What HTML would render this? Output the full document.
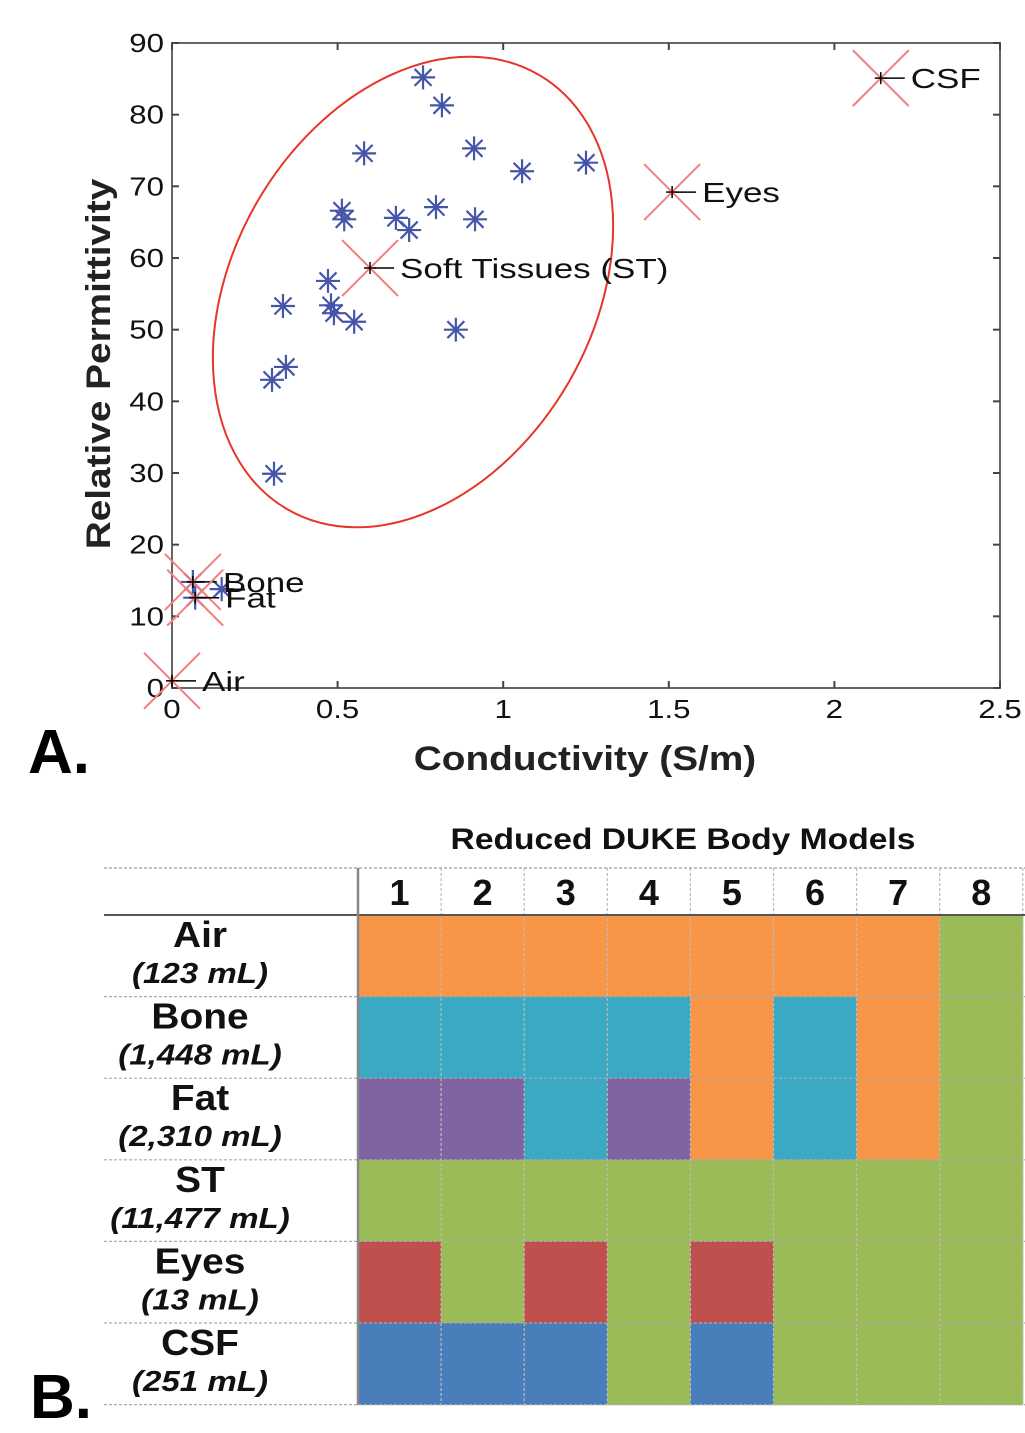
<!DOCTYPE html>
<html><head><meta charset="utf-8"><style>
body{margin:0;background:#fff;width:1025px;height:1433px;overflow:hidden;font-family:"Liberation Sans",sans-serif}
svg{position:absolute;left:0;top:0}
</style></head><body>
<svg id="chart" width="1025" height="1433" viewBox="0 0 1025 1433"></svg>
<script>
const starX=[0.758,0.815,0.912,0.58,1.057,1.25,0.513,0.52,0.676,0.716,0.797,0.915,0.471,0.335,0.48,0.489,0.55,0.857,0.344,0.302,0.308,0.063,0.07,0.15];
const starY=[85.2,81.3,75.3,74.6,72.1,73.3,66.6,65.4,65.6,63.9,67.1,65.4,56.8,53.3,53.4,52.3,51.1,50,44.8,43,29.9,14.8,12.6,13.8];
const labelNames=["CSF","Eyes","Soft Tissues (ST)","Bone","Fat","Air"];
const labelX=[2.14,1.51,0.598,0.063,0.07,0];
const labelY=[85.1,69.2,58.6,14.8,12.6,1];
const xTicks=[0,0.5,1,1.5,2,2.5];
const yTicks=[0,10,20,30,40,50,60,70,80,90];
const tissues=["Air","Bone","Fat","ST","Eyes","CSF"];
const volumes=["(123 mL)","(1,448 mL)","(2,310 mL)","(11,477 mL)","(13 mL)","(251 mL)"];
const models=["1","2","3","4","5","6","7","8"];
const grid=[
["O","O","O","O","O","O","O","G"],
["C","C","C","C","O","C","O","G"],
["P","P","C","P","O","C","O","G"],
["G","G","G","G","G","G","G","G"],
["R","G","R","G","R","G","G","G"],
["B","B","B","G","B","G","G","G"]];
const colors={O:"#F79646",C:"#3BA9C3",P:"#8064A2",G:"#9BBB59",R:"#C0504D",B:"#4A7EBB"};

const NS="http://www.w3.org/2000/svg";
const svg=document.getElementById('chart');
const widen=[];
function mk(tag,attrs,parent){const e=document.createElementNS(NS,tag);for(const k in attrs)e.setAttribute(k,attrs[k]);(parent||svg).appendChild(e);return e;}
const X0=172,X1=1000,Y0=688,Y1=43;
const sx=v=>X0+(v-0)/(2.5)*(X1-X0);
const sy=v=>Y0-(v/90)*(Y0-Y1);

let e=mk('rect',{x:X0,y:Y1,width:X1-X0,height:Y0-Y1,fill:'none',stroke:'#666','stroke-width':2});


xTicks.forEach(t=>{
 mk('line',{x1:sx(t),x2:sx(t),y1:Y0,y2:Y0-7,stroke:'#444','stroke-width':2});
 mk('line',{x1:sx(t),x2:sx(t),y1:Y1,y2:Y1+7,stroke:'#444','stroke-width':2});
 const tx=mk('text',{x:sx(t),y:Y0+30,'font-size':26,'text-anchor':'middle',fill:'#111'});tx.textContent=t;
 
 
 widen.push([tx,1.2]);
});
yTicks.forEach(t=>{
 mk('line',{x1:X0,x2:X0+7,y1:sy(t),y2:sy(t),stroke:'#444','stroke-width':2});
 mk('line',{x1:X1,x2:X1-7,y1:sy(t),y2:sy(t),stroke:'#444','stroke-width':2});
 const tx=mk('text',{x:X0-8,y:sy(t)+9,'font-size':26,'text-anchor':'end',fill:'#111'});tx.textContent=t;
 
 
 widen.push([tx,1.2]);
});
e=mk('text',{x:585,y:770,'font-size':34,'font-weight':'bold','text-anchor':'middle',fill:'#222'});e.textContent='Conductivity (S/m)';


widen.push([e,1.14]);
e=mk('text',{x:0,y:0,'font-size':34,'font-weight':'bold','text-anchor':'middle',fill:'#222',transform:'translate(110,364) rotate(-90)'});e.textContent='Relative Permittivity';


widen.push([e,1.14]);
e=mk('text',{x:28,y:773,'font-size':62,'font-weight':'bold',fill:'#000'});e.textContent='A.';



e=mk('ellipse',{cx:413,cy:292,rx:180,ry:251,transform:'rotate(30 413 292)',fill:'none',stroke:'#e8352a','stroke-width':2});



for(let i=0;i<starX.length;i++){
 const g=mk('g',{transform:`translate(${sx(starX[i])},${sy(starY[i])})`,stroke:'#4455aa','stroke-width':2.2});
 
 
 [0,45,90,135].forEach(a=>mk('line',{x1:-12,y1:0,x2:12,y2:0,transform:`rotate(${a})`},g));
}
for(let i=0;i<labelNames.length;i++){
 const px=sx(labelX[i]),py=sy(labelY[i]);
 const g=mk('g',{});
 
 
 mk('line',{x1:px-28,y1:py-28,x2:px+28,y2:py+28,stroke:'#f08080','stroke-width':2},g);
 mk('line',{x1:px-28,y1:py+28,x2:px+28,y2:py-28,stroke:'#f08080','stroke-width':2},g);
 mk('line',{x1:px-6,y1:py,x2:px+6,y2:py,stroke:'#000','stroke-width':1.5},g);
 mk('line',{x1:px,y1:py-6,x2:px,y2:py+6,stroke:'#000','stroke-width':1.5},g);
 mk('line',{x1:px+4,y1:py,x2:px+24,y2:py,stroke:'#000','stroke-width':1.5},g);
 const t=mk('text',{x:px+30,y:py+10,'font-size':28,fill:'#111'},g);t.textContent=labelNames[i];
 widen.push([t,1.25]);
}

const TX=358,CW=83.1,TY=915,RH=81.6;
e=mk('text',{x:683,y:849,'font-size':30,'font-weight':'bold','text-anchor':'middle',fill:'#111'});e.textContent='Reduced DUKE Body Models';


widen.push([e,1.12]);
for(let r=0;r<grid.length;r++){
 for(let c=0;c<models.length;c++){
  const cell=mk('rect',{x:TX+c*CW,y:TY+r*RH,width:CW+0.5,height:RH+0.5,fill:colors[grid[r][c]]});
  
  
 }
 let t=mk('text',{x:200,y:TY+r*RH+32,'font-size':36,'font-weight':'bold','text-anchor':'middle',fill:'#111'});t.textContent=tissues[r];
 
 
 widen.push([t,1.08]);
 t=mk('text',{x:200,y:TY+r*RH+68,'font-size':29,'font-weight':'bold','font-style':'italic','text-anchor':'middle',fill:'#111'});t.textContent=volumes[r];
 
 
 widen.push([t,1.14]);
}
models.forEach((m,c)=>{
 const t=mk('text',{x:TX+c*CW+CW/2,y:905,'font-size':36,'font-weight':'bold','text-anchor':'middle',fill:'#111'});t.textContent=m;
 
 
});
mk('line',{x1:104,x2:1025,y1:868,y2:868,stroke:'#aaa','stroke-width':1.5,'stroke-dasharray':'3,2'});
for(let c=1;c<=8;c++)mk('line',{x1:TX+c*CW,x2:TX+c*CW,y1:868,y2:1405,stroke:'#bbb','stroke-width':1.2,'stroke-dasharray':'3,2'});
for(let r=1;r<=6;r++)mk('line',{x1:104,x2:1025,y1:TY+r*RH,y2:TY+r*RH,stroke:'#aaa','stroke-width':1.2,'stroke-dasharray':'3,2'});
mk('line',{x1:104,x2:1025,y1:TY,y2:TY,stroke:'#555','stroke-width':2});
mk('line',{x1:TX,x2:TX,y1:868,y2:1405,stroke:'#888','stroke-width':2.5});
e=mk('text',{x:30,y:1418,'font-size':62,'font-weight':'bold',fill:'#000'});e.textContent='B.';



widen.forEach(([t,f])=>{
 const L=t.getComputedTextLength();
 if(L>0){t.setAttribute('textLength',(L*f).toFixed(1));t.setAttribute('lengthAdjust','spacingAndGlyphs');}
});
</script>
</body></html>
